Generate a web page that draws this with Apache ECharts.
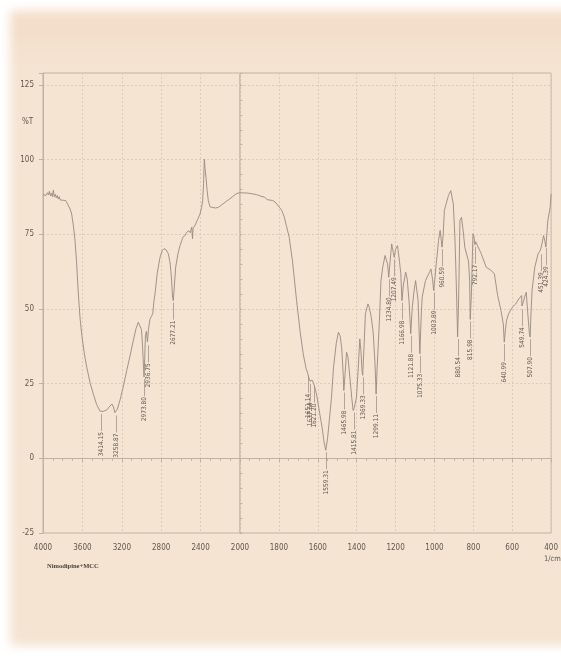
<!DOCTYPE html>
<html><head><meta charset="utf-8">
<script src="https://cdn.jsdelivr.net/npm/echarts@6/dist/echarts.min.js"></script>
<style>
html,body{margin:0;padding:0;background:#fff;}
#wrap{position:relative;width:561px;height:661px;overflow:hidden;background:#fff;}
#bg{position:absolute;left:10px;top:10px;width:580px;height:636px;
 background:linear-gradient(to bottom,#F5E1CF 0px,#F3DDC9 20px,#F4E1CE 34px,#F5E4D2 60px,#F5E4D2 100%);filter:blur(5px);}
#chart{position:absolute;left:0;top:0;width:561px;height:661px;}
</style></head>
<body><div id="wrap"><div id="bg"></div><div id="chart"></div></div>
<script>
// ---- data ----
const wavenumbers = [
 4000,3985,3970,3955,3945,3935,3925,3915,3905,3895,3885,3875,3865,3855,3845,3835,3825,3815,3800,3785,3770,3755,3743,3725,3709,3690,3675,3660,3641,3624,3607,3580,3556,3520,3489,3455,3421,3414,3390,3353,3320,3300,3285,3270,3259,3245,3218,3185,3150,3115,3083,3055,3032,3015,3000,2990,2980,2974,2968,2960,2950,2940,2937,2930,2915,2900,2886,2873,2863,2840,2812,2790,2772,2750,2728,2710,2695,2685,2677,2668,2653,2630,2609,2590,2582,2560,2541,2520,2505,2490,2482,2476,2457,2430,2406,2390,2379,2370,2362,2355,2345,2335,2322,2305,2288,2250,2220,2180,2140,2102,2060,2030,2000,
 1960,1915,1895,1873,1860,1850,1831,1815,1797,1785,1772,1760,1747,1730,1709,1690,1675,1660,1651,1646,1640,1637,1629,1621,1612,1604,1590,1578,1568,1559,1550,1544,1530,1519,1505,1494,1485,1477,1470,1466,1460,1452,1445,1435,1425,1418,1412,1401,1392,1384,1378,1372,1369,1364,1355,1342,1335,1325,1315,1306,1300,1295,1283,1275,1266,1254,1248,1241,1235,1228,1220,1212,1207,1200,1190,1180,1173,1167,1160,1148,1140,1130,1122,1114,1105,1097,1084,1075,1068,1063,1046,1029,1018,1010,1004,998,991,979,971,965,961,955,949,940,928,916,903,895,891,886,881,877,874,869,861,852,844,836,825,819,816,810,806,802,797,792,788,781,760,734,709,692,675,658,646,641,635,629,619,599,582,566,552,550,545,540,537,528,520,512,508,504,498,484,467,456,451,447,439,433,427,424,417,405,400
];
const transmittance = [
 88.3,88.6,88.0,88.9,88.2,89.4,87.9,88.8,87.6,89.8,87.5,88.4,87.2,88.0,86.8,87.6,86.5,87.0,86.4,86.0,86.3,85.4,85.5,83.5,81.8,77.5,73,66,55,47,41.5,35,30.5,25,21.5,18,15.8,15.5,15.7,16.2,17.5,18.2,17.2,15.3,15,16.5,19.5,24,29.4,34.5,39.5,43.5,45.6,45.3,43,38,31,27.2,33,41,42.5,39,38.5,43,46.5,47.5,48.4,52.8,55,62,67.3,69.5,70.2,69.8,68.5,65.5,60,54,52.8,57,64,68.5,71.2,73,74,74.5,75.7,76.2,75.5,77.4,73.5,77,78,80,81.8,84,86.3,92,100.2,97,94,90,86.3,84.2,83.7,83.8,84,85,86,86.9,88,88.7,88.9,
 88.8,88.3,87.8,87.4,86.6,87.0,86.3,85.5,84,83,80.7,77.5,74,66,52.8,42,35,30,28.3,27,25.8,25.5,26.2,25,23,20.5,15,10.5,5.5,2.7,6.5,10.5,20,30.5,38.5,42.2,41,37,29,22.7,28,35.5,34,27.2,20,16,17,20.5,30,40,36,29,27.8,35,48.4,51.7,50.5,47.2,42,32,21.5,30,46.2,59.5,64,67.9,66.5,65.1,60.6,66,71.8,69,67.3,70,71.2,66,61.8,52.8,58,62.3,60,52,41.7,50.6,56,59.5,52.8,35,48,54,59.5,61.8,63.4,60,56.2,60,65.1,72.9,76.3,73,70.7,75,83,85.2,88,89.6,85.2,74,66,54,40.6,50,59.5,79.6,80.7,76,70.7,70.5,66,59.5,46.5,55,65.1,75.2,74.5,71.5,72.5,72.9,68.6,64,62.9,61.8,54.5,49.5,45,38.9,43,46.2,48.4,50.6,51.7,53.4,54.5,51,50.6,53,54,55.6,48.4,42,40.6,48,56.2,64,68.5,69.6,69,71.8,74.6,73,70.7,71,79.6,84,88.5
];
const peakWavenumbers = [3414.15,3258.87,2973.80,2936.75,2677.21,1651.14,1637.64,1621.20,1559.31,1465.98,1415.81,1369.33,1299.11,1234.80,1207.49,1166.98,1121.88,1075.33,1003.89,960.59,880.54,815.98,792.17,640.99,549.74,507.90,451.39,424.39];
const peakTransmittance = [15.5,15,27.2,38.5,52.8,28.3,25.5,25,2.7,22.7,16,27.8,21.5,60.6,67.3,52.8,41.7,35,56.2,70.7,40.6,46.5,71.5,38.9,50.6,40.6,69,71];
const yTicks = [-25,0,25,50,75,100,125];

// ---- build ----
const spectrum = wavenumbers.map((w, i) => [w, transmittance[i]]);
const leftData = spectrum.filter(p => p[0] >= 2000);
const rightData = spectrum.filter(p => p[0] <= 2000);
const peaks = peakWavenumbers.map((w, i) => [w, peakTransmittance[i], w.toFixed(2)]);
const leftPeaks = peaks.filter(p => p[0] >= 2000);
const rightPeaks = peaks.filter(p => p[0] < 2000);

const lineColor = '#948a81';
const gridColor = '#dccbb8';
const frameColor = '#bfb2a4';
const textColor = '#5e5751';
const labelFont = '"Liberation Sans Narrow","DejaVu Sans Condensed","Liberation Sans",sans-serif';

function peakRender(params, api) {
  const p = api.coord([api.value(0), api.value(1)]);
  const x = Math.round(p[0]) + 0.5, y = p[1];
  const label = peaks.find(q => q[0] === api.value(0))[2];
  return {
    type: 'group',
    children: [
      {type: 'line', shape: {x1: x, y1: y + 2, x2: x, y2: y + 19},
       style: {stroke: lineColor, lineWidth: 0.7}},
      {type: 'text', x: x, y: y + 20, rotation: Math.PI / 2,
       style: {text: label, fontSize: 6.5, fontFamily: labelFont, fill: textColor,
               align: 'right', verticalAlign: 'middle'}}
    ]
  };
}

const xCommon = {
  type: 'value', inverse: true,
  axisLine: {show: true, lineStyle: {color: frameColor, width: 1}},
  axisTick: {show: true, inside: false, length: 4, lineStyle: {color: frameColor}},
  minorTick: {show: true, splitNumber: 4, length: 2.5, lineStyle: {color: frameColor}},
  axisLabel: {fontSize: 8, color: textColor, margin: 11, fontFamily: labelFont, formatter: v => String(v)},
  splitLine: {show: true, lineStyle: {color: gridColor, type: [2, 2], width: 1}}
};
const yCommon = {
  type: 'value', min: -25, max: 129, interval: 25,
  splitLine: {show: true, lineStyle: {color: gridColor, type: [2, 2], width: 1}}
};

const chart = echarts.init(document.getElementById('chart'), null, {renderer: 'canvas', width: 561, height: 661});
chart.setOption({
  backgroundColor: 'transparent',
  animation: false,
  grid: [
    {left: 43, top: 73, width: 197, height: 460, show: true, borderColor: frameColor, borderWidth: 1, backgroundColor: 'transparent'},
    {left: 240, top: 73, width: 316, height: 460, show: true, borderColor: frameColor, borderWidth: 1, backgroundColor: 'transparent'}
  ],
  xAxis: [
    Object.assign({}, xCommon, {gridIndex: 0, min: 2000, max: 4000, interval: 400}),
    Object.assign({}, xCommon, {gridIndex: 1, min: 400, max: 2000, interval: 200,
      axisLabel: Object.assign({}, xCommon.axisLabel, {showMaxLabel: false})})
  ],
  yAxis: [
    Object.assign({}, yCommon, {gridIndex: 0,
      axisLine: {show: true, lineStyle: {color: frameColor}},
      axisTick: {show: true, length: 4, lineStyle: {color: frameColor}},
      axisLabel: {fontSize: 8, color: textColor, margin: 9, fontFamily: labelFont,
        formatter: v => (yTicks.indexOf(v) >= 0 ? String(v) : '')}}),
    Object.assign({}, yCommon, {gridIndex: 0, interval: 5,
      axisLine: {show: false}, splitLine: {show: false}, axisLabel: {show: false},
      axisTick: {show: true, length: 2.5, lineStyle: {color: frameColor}}}),
    Object.assign({}, yCommon, {gridIndex: 1,
      axisLine: {show: false}, axisTick: {show: false}, axisLabel: {show: false}})
  ],
  graphic: [
    {type: 'text', left: 22, top: 118, style: {text: '%T', fontSize: 8, fill: textColor, fontFamily: labelFont}},
    {type: 'text', left: 544, top: 555, style: {text: '1/cm', fontSize: 7.5, fill: textColor, fontFamily: labelFont}},
    {type: 'text', left: 47, top: 563, style: {text: 'Nimodipine+MCC', fontSize: 6.5, fontWeight: 'bold', fill: '#4a4540', fontFamily: '"Liberation Serif",serif'}}
  ],
  series: [
    {type: 'line', xAxisIndex: 0, yAxisIndex: 0, data: leftData, showSymbol: false, symbol: 'none',
     lineStyle: {color: lineColor, width: 0.9}},
    {type: 'line', xAxisIndex: 1, yAxisIndex: 2, data: rightData, showSymbol: false, symbol: 'none',
     lineStyle: {color: lineColor, width: 0.9}},
    {type: 'custom', xAxisIndex: 0, yAxisIndex: 0, data: leftPeaks, renderItem: peakRender, clip: false},
    {type: 'custom', xAxisIndex: 1, yAxisIndex: 2, data: rightPeaks, renderItem: peakRender, clip: false}
  ]
});
</script></body></html>
